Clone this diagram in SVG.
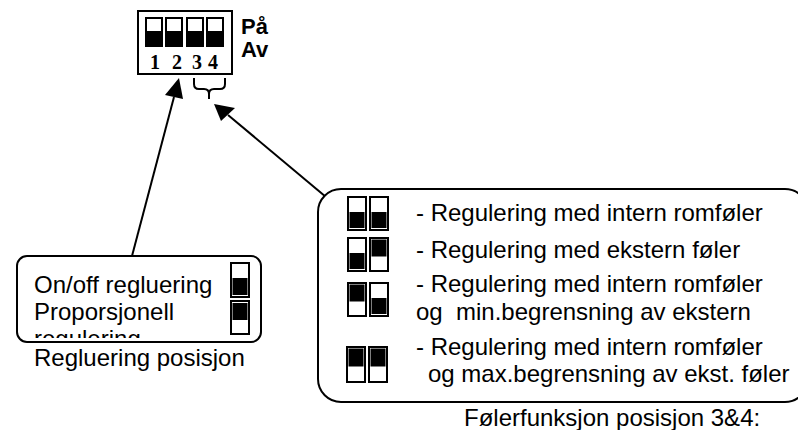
<svg xmlns="http://www.w3.org/2000/svg" width="798" height="430" viewBox="0 0 798 430">
<style>
text{font-family:"Liberation Sans",Arial,sans-serif;font-size:24px;fill:#000;white-space:pre}
.num{font-family:"Liberation Serif","Times New Roman",serif;font-weight:bold;font-size:20px;text-anchor:middle}
.b{font-weight:bold;font-size:22px}
.box{fill:#fff;stroke:#000;stroke-width:2}
.sw{fill:#fff;stroke:#000;stroke-width:2}
.line{fill:none;stroke:#000;stroke-width:2}
</style>
<defs>
<clipPath id="leftClip"><rect x="18" y="257" width="242" height="81"/></clipPath>
<g id="top"><rect class="sw" x="1" y="1" width="16" height="28"/><rect x="2" y="14" width="15" height="14"/></g>
<g id="swDown"><rect class="sw" x="1" y="1" width="18" height="33"/><rect x="2.500" y="16" width="15" height="16"/></g>
<g id="swUp"><rect class="sw" x="1" y="1" width="18" height="33"/><rect x="2.500" y="2.500" width="15" height="17"/></g>
<g id="swUpTall"><rect class="sw" x="1" y="1" width="18" height="35"/><rect x="2.500" y="2.500" width="15" height="18"/></g>
</defs>
<g id="connectors">
<line class="line" x1="132" y1="256" x2="174" y2="97"/>
<polygon points="179,78 165,95 183,99"/>
<line class="line" x1="326" y1="197" x2="228" y2="115"/>
<polygon points="214,104 221,121 235,108"/>
</g>
<g id="dip-switch">
<rect class="box" x="138" y="11" width="94" height="63"/>
<use href="#top" x="145" y="17"/><use href="#top" x="165" y="17"/><use href="#top" x="186" y="17"/><use href="#top" x="206" y="17"/>
<text class="num" x="155" y="69">1</text><text class="num" x="177" y="69">2</text><text class="num" x="197" y="69">3</text><text class="num" x="213" y="69">4</text>
<text class="b" x="241" y="34">På</text>
<text class="b" x="241" y="57">Av</text>
<path class="line" d="M194,78V84Q194,89 199,89H204Q209,89 209,94V99M209,94Q209,89 214,89H220Q225,89 225,84V78"/>
</g>
<g id="regulering-box">
<rect class="box" x="17" y="256" width="244" height="86" rx="10"/>
<text x="34" y="293">On/off regluering</text>
<text x="34" y="320">Proporsjonell</text>
<text x="34" y="347" clip-path="url(#leftClip)">regulering</text>
<rect class="sw" x="231" y="263" width="18" height="34"/><rect x="232.500" y="278" width="15" height="17"/>
<rect class="sw" x="231" y="301" width="18" height="33"/><rect x="232.500" y="303" width="15" height="17"/>
</g>
<g id="regulering-label"><text x="34" y="366">Regluering posisjon</text></g>
<g id="foler-box">
<rect class="box" x="318" y="189" width="490" height="213" rx="23"/>
<use href="#swDown" x="347" y="196"/><use href="#swDown" x="369" y="196"/>
<use href="#swDown" x="347" y="237"/><use href="#swUp" x="369" y="237"/>
<use href="#swUp" x="347" y="282"/><use href="#swDown" x="369" y="282"/>
<use href="#swUpTall" x="346" y="346"/><use href="#swUpTall" x="368" y="346"/>
<text x="416" y="221">- Regulering med intern romføler</text>
<text x="416" y="258">- Regulering med ekstern føler</text>
<text x="416" y="292">- Regulering med intern romføler</text>
<text x="416" y="320">og  min.begrensning av ekstern</text>
<text x="416" y="355">- Regulering med intern romføler</text>
<text x="428" y="382">og max.begrensning av ekst. føler</text>
</g>
<g id="foler-label"><text x="464" y="426">Følerfunksjon posisjon 3&amp;4:</text></g>
</svg>
